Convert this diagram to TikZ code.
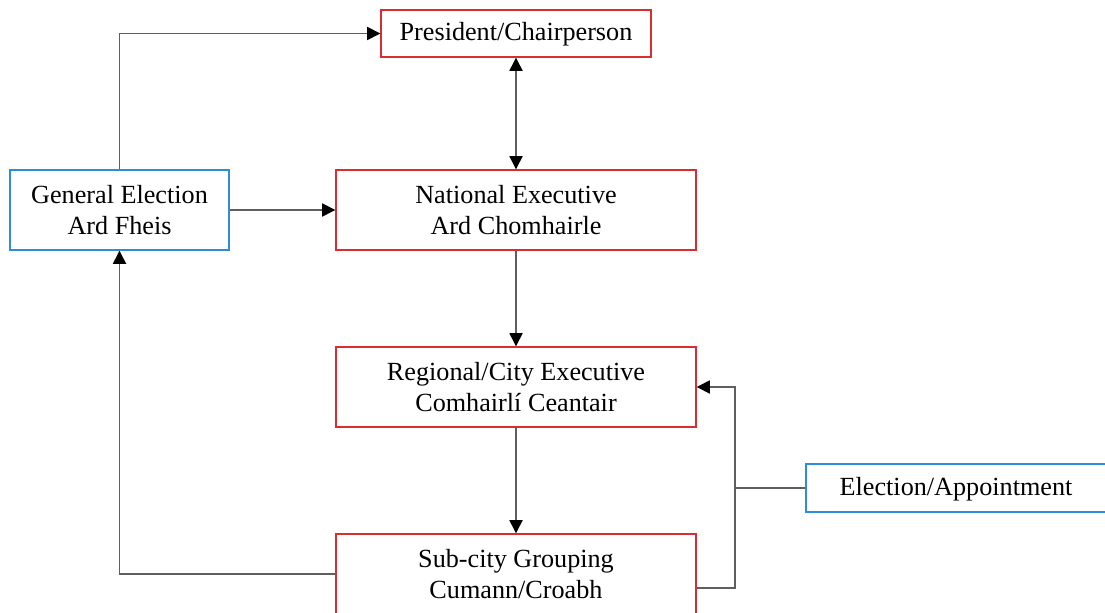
\documentclass[tikz,border=0pt]{standalone}
\usepackage{fontspec}
\setmainfont{Liberation Serif}
\usetikzlibrary{arrows.meta, positioning, calc}
\definecolor{boxred}{RGB}{218, 45, 50}
\definecolor{boxblue}{RGB}{45, 140, 220}
\definecolor{linegray}{RGB}{95, 95, 95}
\tikzset{
    unit/.style={rectangle, draw=boxred, line width=0.8pt, align=center, inner sep=0pt, font=\fontsize{14.9}{17.5}\selectfont},
    source/.style={unit, draw=boxblue},
    oneline/.style={text height=1.05em, text depth=0.2em},
    line/.style={draw=linegray, line width=0.7pt},
    link/.style={line, -{Triangle[length=7.5pt, width=7.5pt, color=black]}},
    twoway/.style={line, {Triangle[length=7.5pt, width=7.5pt, color=black]}-{Triangle[length=7.5pt, width=7.5pt, color=black]}}
}

\begin{document}
\begin{tikzpicture}[x=0.02cm, y=-0.02cm]
    \clip (0,0) rectangle (1105,612);

    % Party hierarchy (centre column)
    \node[unit, oneline, minimum width=5.4cm, minimum height=0.94cm] (pres) at (516,33.5) {President/Chairperson};
    \node[unit, minimum width=7.2cm, minimum height=1.6cm] (natl) at (516,210) {National Executive\\ Ard Chomhairle};
    \node[unit, minimum width=7.2cm, minimum height=1.6cm] (region) at (516,387) {Regional/City Executive\\ Comhairlí Ceantair};
    \node[unit, minimum width=7.2cm, minimum height=1.6cm] (branch) at (516,574) {Sub-city Grouping\\ Cumann/Croabh};

    % Selection bodies
    \node[source, minimum width=4.38cm, minimum height=1.6cm] (ardfheis) at (119.5,210) {General Election\\ Ard Fheis};
    \node[source, oneline, minimum width=6cm, minimum height=0.96cm] (appoint) at (956,488) {Election/Appointment};
    \coordinate (joint) at (735,488);

    \draw[link] (ardfheis.north) |- (pres.west);
    \draw[link] (ardfheis.east) -- (natl.west);
    \draw[twoway] (pres.south) -- (natl.north);
    \draw[link] (natl.south) -- (region.north);
    \draw[link] (region.south) -- (branch.north);
    \draw[link] (branch.west) -| (ardfheis.south);
    \draw[link] ([yshift=-0.28cm]branch.east) -| (joint) |- (region.east);
    \draw[line] (appoint.west) -- (joint);

\end{tikzpicture}
\end{document}
